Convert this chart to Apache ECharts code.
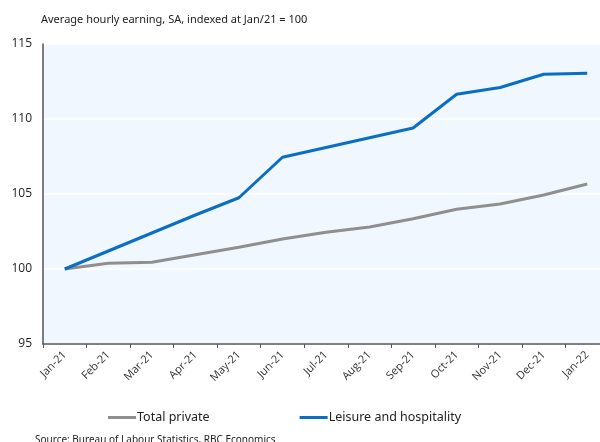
<!DOCTYPE html>
<html>
<head>
<meta charset="utf-8">
<script src="https://cdn.jsdelivr.net/npm/echarts@6/dist/echarts.min.js"></script>
<style>
html,body{margin:0;padding:0;background:#fff;}
#chart{width:600px;height:442px;}
</style>
</head>
<body>
<div id="chart"></div>
<script>
const categories = ['Jan-21','Feb-21','Mar-21','Apr-21','May-21','Jun-21','Jul-21','Aug-21','Sep-21','Oct-21','Nov-21','Dec-21','Jan-22'];
const totalPrivate = [100, 100.38, 100.45, 100.95, 101.45, 102.0, 102.45, 102.8, 103.35, 103.98, 104.33, 104.93, 105.67];
const leisureHospitality = [100, 101.2, 102.4, 103.6, 104.75, 107.45, 108.1, 108.75, 109.4, 111.65, 112.1, 112.98, 113.05];
const yTicks = {min: 95, max: 115, interval: 5};
const subtitle = 'Average hourly earning, SA, indexed at Jan/21 = 100';
const source = 'Source: Bureau of Labour Statistics, RBC Economics';

const chart = echarts.init(document.getElementById('chart'), null, {renderer: 'canvas'});
chart.setOption({
  animation: false,
  backgroundColor: '#ffffff',
  textStyle: {fontFamily: 'Open Sans'},
  title: [
    {text: subtitle, left: 36, top: 9, textStyle: {fontFamily: 'Noto Sans', fontSize: 11, fontWeight: 'normal', color: '#222'}},
    {text: source, left: 30, top: 430, textStyle: {fontFamily: 'Noto Sans', fontSize: 10, fontWeight: 'normal', color: '#222'}}
  ],
  grid: {left: 43, top: 44, width: 566, height: 300, show: true, backgroundColor: '#F0F7FF', borderWidth: 0, containLabel: false, outerBoundsMode: 'none'},
  legend: {
    left: 103, top: 406, itemGap: 90, itemWidth: 28, itemHeight: 3, icon: 'rect',
    textStyle: {fontFamily: 'Noto Sans', fontSize: 12.5, color: '#222', padding: [0,0,0,-4]},
    data: ['Total private', 'Leisure and hospitality']
  },
  xAxis: {
    type: 'category', data: categories, boundaryGap: true,
    axisLine: {lineStyle: {color: '#555', width: 1.5}},
    axisTick: {show: true, length: 4, lineStyle: {color: '#555'}},
    axisLabel: {rotate: 45, fontSize: 11, color: '#333', margin: 9, interval: 0},
    splitLine: {show: false}
  },
  yAxis: {
    type: 'value', min: yTicks.min, max: yTicks.max, interval: yTicks.interval,
    axisLine: {show: true, lineStyle: {color: '#555', width: 1.5}},
    axisTick: {show: false},
    axisLabel: {fontSize: 12, color: '#222', margin: 11},
    splitLine: {show: true, lineStyle: {color: '#ffffff', width: 1.5}}
  },
  series: [
    {name: 'Total private', type: 'line', data: totalPrivate, symbol: 'none', lineStyle: {color: '#8F8F8F', width: 3}, itemStyle: {color: '#8F8F8F'}, z: 2},
    {name: 'Leisure and hospitality', type: 'line', data: leisureHospitality, symbol: 'none', lineStyle: {color: '#0A6FC4', width: 3}, itemStyle: {color: '#0A6FC4'}, z: 3}
  ]
});
</script>
</body>
</html>
